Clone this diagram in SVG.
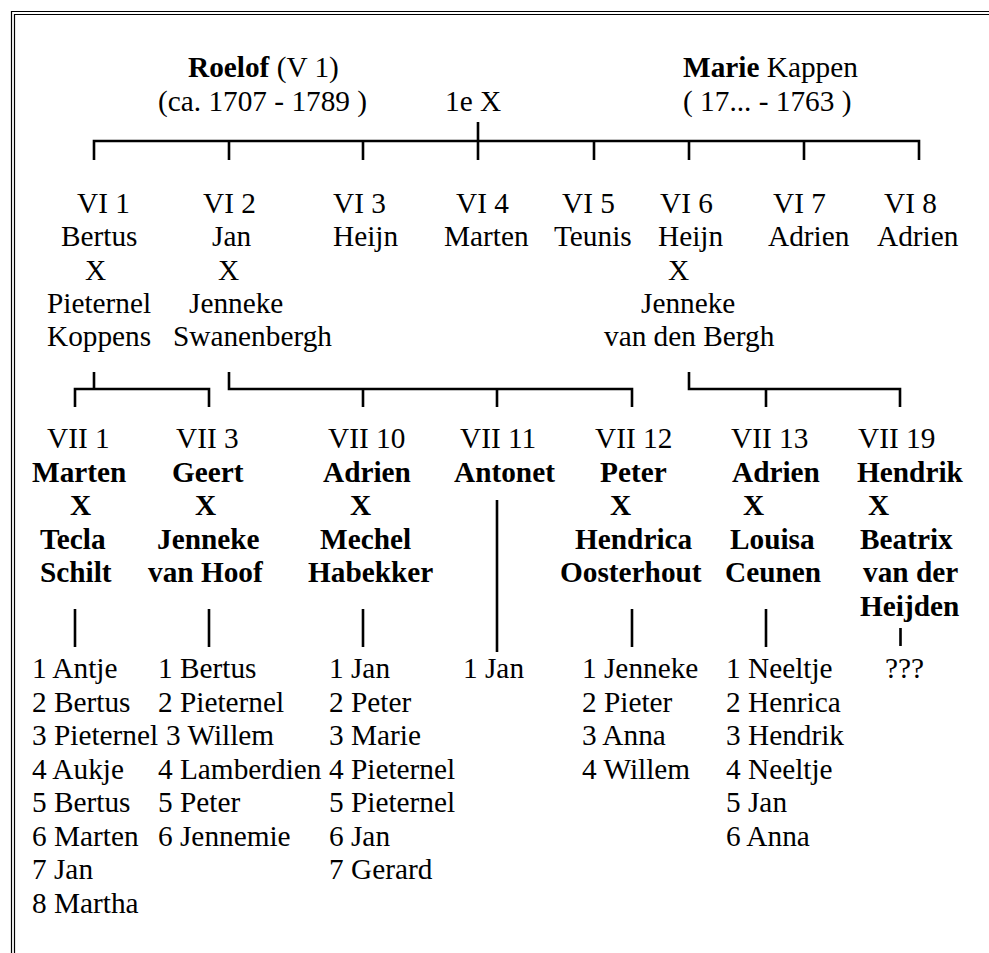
<svg xmlns="http://www.w3.org/2000/svg" width="989" height="953" viewBox="0 0 989 953">
<style>
text{font-family:"Liberation Serif","Times New Roman",serif;font-size:29.3px;fill:#000}
.b{font-weight:bold}
.c{stroke:#000;stroke-width:2.6;fill:none;stroke-linecap:butt}
.f{stroke:#000;stroke-width:1.2;fill:none}
</style>
<rect width="989" height="953" fill="#fff"/>
<g id="frame">
<path class="f" d="M11.5,953 V11.5 H989"/>
<path class="f" d="M14.5,953 V14.5 H989"/>
</g>
<g id="connectors">
<path class="c" d="M94,160 V141 H919 V160 M229,141 V160 M363,141 V160 M478,122 V160 M594,141 V160 M689,141 V160 M804,141 V160"/>
<path class="c" d="M94,372 V389 M75,407 V389 H209 V407"/>
<path class="c" d="M229,372 V389 H632 V407 M363,389 V407 M497,389 V407"/>
<path class="c" d="M689,372 V389 H900 V407 M766,389 V407"/>
<path class="c" d="M75,609 V647 M209,609 V647 M363,609 V647 M497,500 V652 M632,609 V647 M766,609 V647 M900.5,628 V646"/>
</g>
<g id="roelof">
<text x="188" y="77"><tspan class="b">Roelof</tspan> (V 1)</text>
<text x="158" y="111">(ca. 1707 - 1789 )</text>
</g>
<g id="marriage"><text x="445" y="111">1e X</text></g>
<g id="marie">
<text x="683" y="77"><tspan class="b">Marie</tspan> Kappen</text>
<text x="683" y="111">( 17... - 1763 )</text>
</g>
<g id="vi1">
<text x="77" y="213">VI 1</text><text x="61" y="246.3">Bertus</text><text x="85" y="279.6">X</text><text x="47" y="313">Pieternel</text><text x="47" y="346.3">Koppens</text>
</g>
<g id="vi2">
<text x="203" y="213">VI 2</text><text x="212" y="246.3">Jan</text><text x="218" y="279.6">X</text><text x="189" y="313">Jenneke</text><text x="173" y="346.3">Swanenbergh</text>
</g>
<g id="vi3"><text x="333" y="213">VI 3</text><text x="333" y="246.3">Heijn</text></g>
<g id="vi4"><text x="456" y="213">VI 4</text><text x="444" y="246.3">Marten</text></g>
<g id="vi5"><text x="562" y="213">VI 5</text><text x="554" y="246.3">Teunis</text></g>
<g id="vi6">
<text x="660" y="213">VI 6</text><text x="658" y="246.3">Heijn</text><text x="668" y="279.6">X</text><text x="641" y="313">Jenneke</text><text x="604" y="346.3">van den Bergh</text>
</g>
<g id="vi7"><text x="773" y="213">VI 7</text><text x="768" y="246.3">Adrien</text></g>
<g id="vi8"><text x="884" y="213">VI 8</text><text x="877" y="246.3">Adrien</text></g>
<g id="vii1">
<text x="47" y="448">VII 1</text><text class="b" x="32" y="481.5">Marten</text><text class="b" x="70" y="515">X</text><text class="b" x="40" y="548.5">Tecla</text><text class="b" x="40" y="582">Schilt</text>
</g>
<g id="vii3">
<text x="176" y="448">VII 3</text><text class="b" x="172" y="481.5">Geert</text><text class="b" x="195" y="515">X</text><text class="b" x="157" y="548.5">Jenneke</text><text class="b" x="148" y="582">van Hoof</text>
</g>
<g id="vii10">
<text x="328" y="448">VII 10</text><text class="b" x="323" y="481.5">Adrien</text><text class="b" x="350" y="515">X</text><text class="b" x="320" y="548.5">Mechel</text><text class="b" x="308" y="582">Habekker</text>
</g>
<g id="vii11"><text x="460" y="448">VII 11</text><text class="b" x="454" y="481.5">Antonet</text></g>
<g id="vii12">
<text x="595" y="448">VII 12</text><text class="b" x="600" y="481.5">Peter</text><text class="b" x="610" y="515">X</text><text class="b" x="575" y="548.5">Hendrica</text><text class="b" x="560" y="582">Oosterhout</text>
</g>
<g id="vii13">
<text x="731" y="448">VII 13</text><text class="b" x="732" y="481.5">Adrien</text><text class="b" x="743" y="515">X</text><text class="b" x="730" y="548.5">Louisa</text><text class="b" x="725" y="582">Ceunen</text>
</g>
<g id="vii19">
<text x="858" y="448">VII 19</text><text class="b" x="857" y="481.5">Hendrik</text><text class="b" x="868" y="515">X</text><text class="b" x="860" y="548.5">Beatrix</text><text class="b" x="863" y="582">van der</text><text class="b" x="860" y="615.5">Heijden</text>
</g>
<g id="kids-vii1">
<text x="32" y="678">1 Antje</text><text x="32" y="711.5">2 Bertus</text><text x="32" y="745">3 Pieternel</text><text x="32" y="778.5">4 Aukje</text><text x="32" y="812">5 Bertus</text><text x="32" y="845.5">6 Marten</text><text x="32" y="879">7 Jan</text><text x="32" y="912.5">8 Martha</text>
</g>
<g id="kids-vii3">
<text x="158" y="678">1 Bertus</text><text x="158" y="711.5">2 Pieternel</text><text x="166" y="745">3 Willem</text><text x="158" y="778.5">4 Lamberdien</text><text x="158" y="812">5 Peter</text><text x="158" y="845.5">6 Jennemie</text>
</g>
<g id="kids-vii10">
<text x="329" y="678">1 Jan</text><text x="329" y="711.5">2 Peter</text><text x="329" y="745">3 Marie</text><text x="329" y="778.5">4 Pieternel</text><text x="329" y="812">5 Pieternel</text><text x="329" y="845.5">6 Jan</text><text x="329" y="879">7 Gerard</text>
</g>
<g id="kids-vii11"><text x="463" y="678">1 Jan</text></g>
<g id="kids-vii12">
<text x="582" y="678">1 Jenneke</text><text x="582" y="711.5">2 Pieter</text><text x="582" y="745">3 Anna</text><text x="582" y="778.5">4 Willem</text>
</g>
<g id="kids-vii13">
<text x="726" y="678">1 Neeltje</text><text x="726" y="711.5">2 Henrica</text><text x="726" y="745">3 Hendrik</text><text x="726" y="778.5">4 Neeltje</text><text x="726" y="812">5 Jan</text><text x="726" y="845.5">6 Anna</text>
</g>
<g id="kids-vii19"><text x="885" y="678">???</text></g>
</svg>
